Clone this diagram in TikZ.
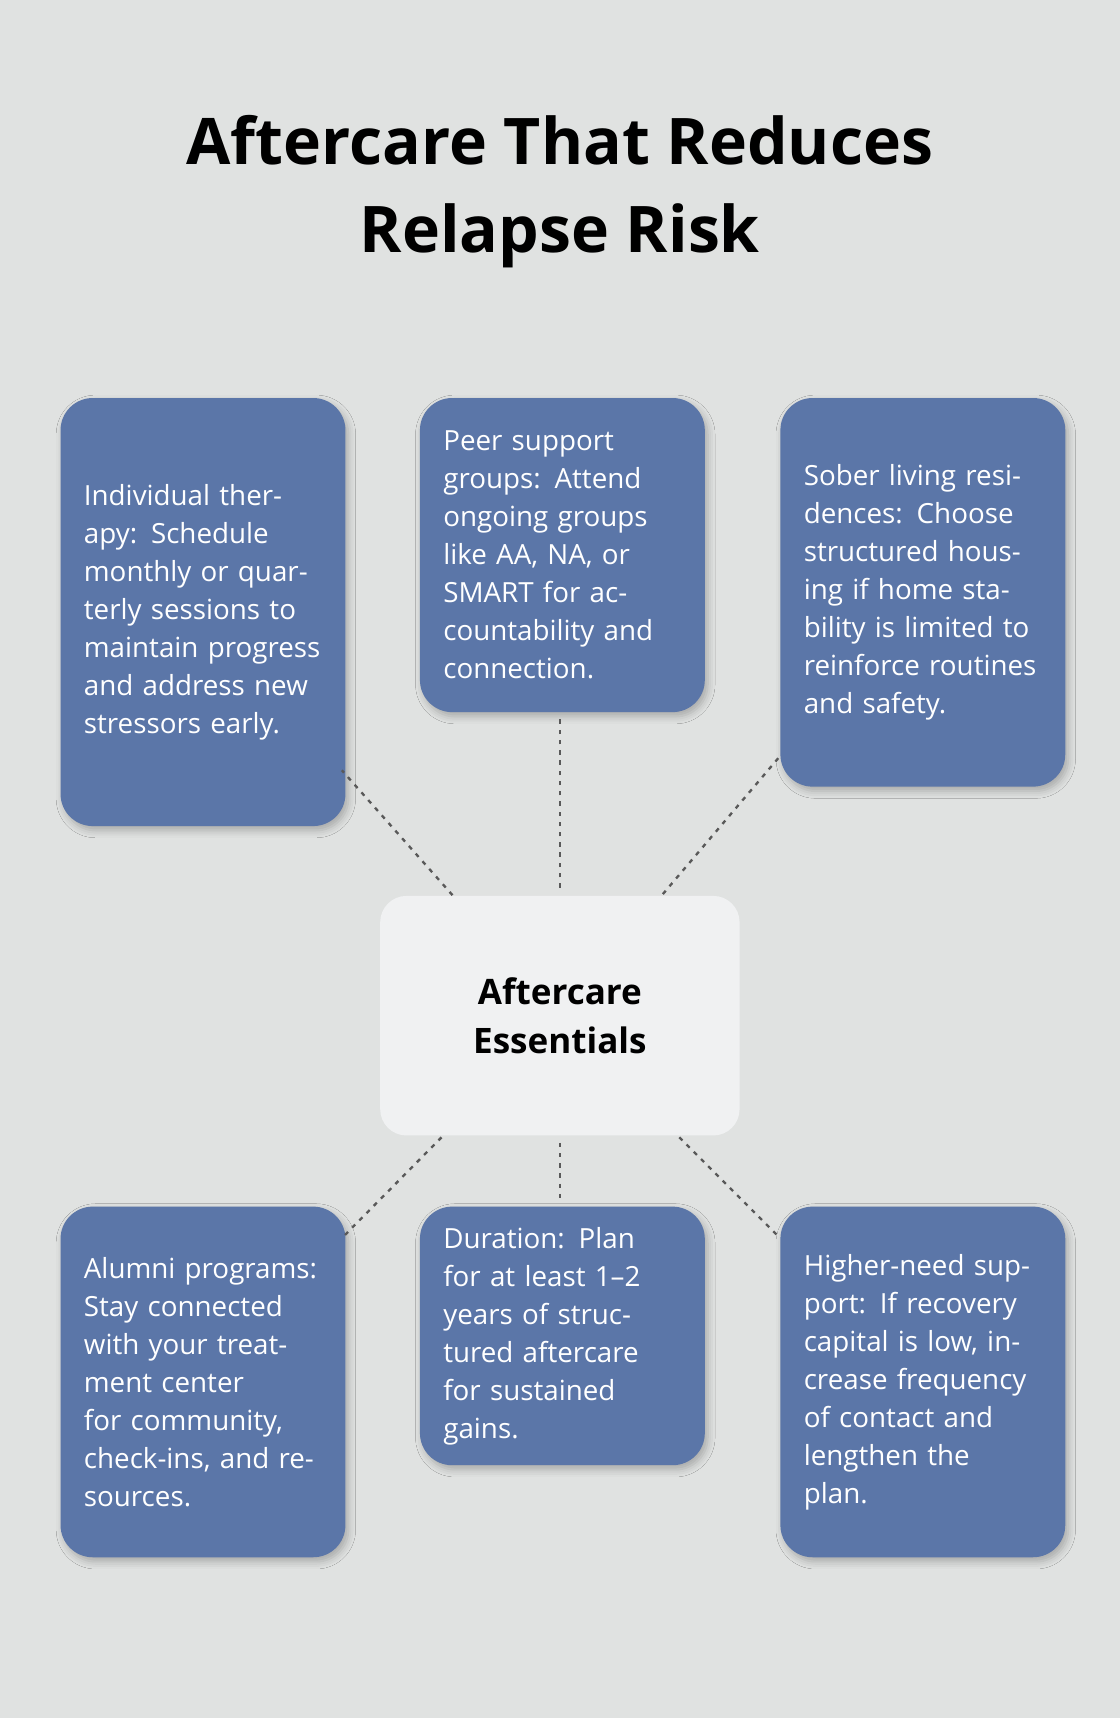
\documentclass[tikz,border=0pt]{standalone}
\usepackage{fontspec}
\setmainfont{Open Sans}
\usetikzlibrary{shadows.blur}
\definecolor{bgc}{HTML}{E0E2E1}
\definecolor{boxc}{HTML}{5B76A8}
\definecolor{hubc}{HTML}{F0F1F2}
\tikzset{
    card/.style={draw=none,fill=boxc,rounded corners=22pt,text=white,
        text width=163pt,align=left,inner xsep=16pt,inner ysep=14pt,
        anchor=north west,font=\fontsize{19}{26}\selectfont,
        blur shadow={shadow xshift=2pt,shadow yshift=-3pt,shadow blur radius=5pt,shadow opacity=25}},
    hub/.style={fill=hubc,rounded corners=18pt,minimum width=246pt,minimum height=164pt,
        align=center,font=\fontsize{24}{33}\selectfont\bfseries},
    link/.style={draw=black!65,line width=1.6pt,dash pattern=on 3pt off 4pt}
}
\begin{document}
\begin{tikzpicture}[x=0.75pt,y=-0.75pt]
    \useasboundingbox[fill=bgc] (0,0) rectangle (1022,1568);
    \node (title) at (511,175) [align=center,font=\fontsize{44}{60}\selectfont\bfseries]
        {Aftercare That Reduces\\Relapse Risk};

    \node (hub) at (511,927) [hub] {Aftercare\\Essentials};

    \node (ind) at (55,363) [card,minimum height=293pt] {Individual therapy: Schedule monthly or quarterly sessions to maintain progress and address new stressors early.};
    \node (peer) at (383,363) [card,minimum height=215pt] {Peer support groups: Attend ongoing groups like AA, NA, or SMART for accountability and connection.};
    \node (sober) at (712,363) [card,minimum height=266pt] {Sober living residences: Choose structured housing if home stability is limited to reinforce routines and safety.};
    \node (alum) at (55,1101) [card,minimum height=240pt] {Alumni programs: Stay connected with your treatment center for community, check-ins, and resources.};
    \node (dur) at (383,1101) [card,minimum height=162pt] {Duration: Plan for at least 1--2 years of structured aftercare for sustained gains.};
    \node (high) at (712,1101) [card,minimum height=240pt] {Higher-need support: If recovery capital is low, increase frequency of contact and lengthen the plan.};

    % dotted spokes
    \coordinate (h1) at (413,817);
    \coordinate (h2) at (511,810);
    \coordinate (h3) at (605,816);
    \coordinate (h4) at (403,1038);
    \coordinate (h5) at (511,1043);
    \coordinate (h6) at (620,1038);
    \coordinate (b1) at (312,703);
    \coordinate (b2) at (511,655);
    \coordinate (b3) at (712,690);
    \coordinate (b4) at (312,1130);
    \coordinate (b5) at (511,1097);
    \coordinate (b6) at (712,1130);
    \begin{scope}[on background layer/.style={}]
    \foreach \i in {1,...,6}
        \draw[link] (h\i) -- (b\i);
    \end{scope}
\end{tikzpicture}
\end{document}
